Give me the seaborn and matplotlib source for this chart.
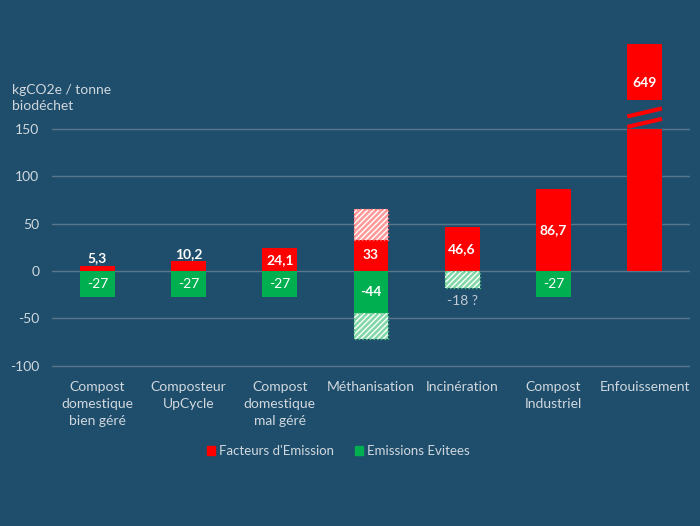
import matplotlib
matplotlib.use("Agg")
import matplotlib.pyplot as plt
import matplotlib.patches as mpatches
import seaborn as sns
import pandas as pd

categories = ["Compost\ndomestique\nbien géré", "Composteur\nUpCycle", "Compost\ndomestique\nmal géré",
              "Méthanisation", "Incinération", "Compost\nIndustriel", "Enfouissement"]
emissions = [5.3, 10.2, 24.1, 33, 46.6, 86.7, 649]
evitees = [-27, -27, -27, -44, 0, -27, 0]
emission_labels = ["5,3", "10,2", "24,1", "33", "46,6", "86,7", "649"]
evitees_labels = ["-27", "-27", "-27", "-44", "", "-27", ""]
# uncertain ranges (hatched)
hatch_em_cat = ["Méthanisation"]
hatch_em_lo = [33]
hatch_em_hi = [65]
hatch_ev_cat = ["Méthanisation", "Incinération"]
hatch_ev_lo = [-44, 0]
hatch_ev_hi = [-72, -18]
# axis break for Enfouissement
break_lo = 150
break_hi = 180
ymax_disp = 239
yticks = [-100, -50, 0, 50, 100, 150]

BG = "#1f4e6c"
TXT = "#d0d8de"
RED = "#ff0000"
GREEN = "#00b050"

sns.set_theme(style="white")
plt.rcParams["font.family"] = ["Lato", "DejaVu Sans"]

fig = plt.figure(figsize=(7, 5.26), dpi=100, facecolor=BG)
ax = fig.add_axes([0.074, 0.2865, 0.912, 0.6308])
ax.set_facecolor(BG)

disp_em = [min(v, break_lo) for v in emissions]
df = pd.DataFrame({"cat": categories, "em": disp_em, "ev": evitees})
W = 0.38
sns.barplot(data=df, x="cat", y="em", color=RED, saturation=1, width=W, ax=ax, zorder=3, linewidth=0)
sns.barplot(data=df, x="cat", y="ev", color=GREEN, saturation=1, width=W, ax=ax, zorder=3, linewidth=0)

def idx(name):
    for i, c in enumerate(categories):
        if c.replace("\n", " ") == name or c == name:
            return i

# hatched uncertain bars
for c, lo, hi in zip(hatch_em_cat, hatch_em_lo, hatch_em_hi):
    i = idx(c)
    ax.bar(i, hi - lo, bottom=lo, width=W, color="#ff9a9a", edgecolor="white", hatch="//////",
           linewidth=0, zorder=3)
    ax.bar(i, hi - lo, bottom=lo, width=W, fill=False, edgecolor="#ff6a6a", linestyle=":", linewidth=1, zorder=4)
for c, lo, hi in zip(hatch_ev_cat, hatch_ev_lo, hatch_ev_hi):
    i = idx(c)
    ax.bar(i, hi - lo, bottom=lo, width=W, color="#7fd8a6", edgecolor="white", hatch="//////",
           linewidth=0, zorder=3)
    ax.bar(i, hi - lo, bottom=lo, width=W, fill=False, edgecolor="#50c080", linestyle=":", linewidth=1, zorder=4)

# broken bar top part
for i, v in enumerate(emissions):
    if v > break_lo:
        ax.bar(i, ymax_disp - break_hi, bottom=break_hi, width=W, color=RED, linewidth=0, zorder=3)
        for y0 in (152, 163):
            ax.plot([i - W / 2, i + W / 2], [y0, y0 + 8.5], color=RED, lw=3, solid_capstyle="butt", zorder=4)

# value labels
for i, (v, lab) in enumerate(zip(emissions, emission_labels)):
    if v < 12:
        ax.text(i, v + 1.5, lab, ha="center", va="bottom", color="white", fontsize=10, fontweight="bold", zorder=5)
    elif v > break_lo:
        ax.text(i, 198, lab, ha="center", va="center", color="white", fontsize=10,
                fontweight="bold", zorder=5)
    else:
        ax.text(i, v / 2, lab, ha="center", va="center", color="white", fontsize=10, fontweight="bold", zorder=5)
for i, (v, lab) in enumerate(zip(evitees, evitees_labels)):
    if lab:
        ax.text(i, v / 2, lab, ha="center", va="center", color="white", fontsize=10,
                fontweight="bold" if v < -30 else "normal", zorder=5)
ax.text(idx("Incinération"), -25, "-18 ?", ha="center", va="top", color="#c0cad2", fontsize=10, zorder=5)

ax.set_ylim(-110, 240)
ax.set_xlim(-0.5, len(categories) - 0.5)
ax.set_yticks(yticks)
ax.set_yticklabels([str(t) for t in yticks], color=TXT, fontsize=10)
for t in yticks:
    ax.axhline(t, color="#58778d", lw=1, zorder=1)
ax.tick_params(axis="y", length=0, pad=9)
ax.tick_params(axis="x", length=0, pad=4, colors=TXT, labelsize=10)
ax.set_xlabel("")
ax.set_ylabel("")
for s in ax.spines.values():
    s.set_visible(False)
for l in ax.get_xticklabels():
    l.set_color(TXT)
    l.set_linespacing(1.5)

fig.text(0.017, 0.787, "kgCO2e / tonne\nbiodéchet", color=TXT, fontsize=10, ha="left", va="bottom", linespacing=1.4)

handles = [mpatches.Patch(color=RED, label="Facteurs d'Emission"),
           mpatches.Patch(color=GREEN, label="Emissions Evitees")]
leg = fig.legend(handles=handles, loc="center", bbox_to_anchor=(0.483, 0.142), ncol=2, frameon=False,
                 handlelength=0.6, handleheight=0.6, handletextpad=0.3, columnspacing=1.6, fontsize=9.5)
for t in leg.get_texts():
    t.set_color(TXT)

fig.savefig("out.png", dpi=100, facecolor=BG)
